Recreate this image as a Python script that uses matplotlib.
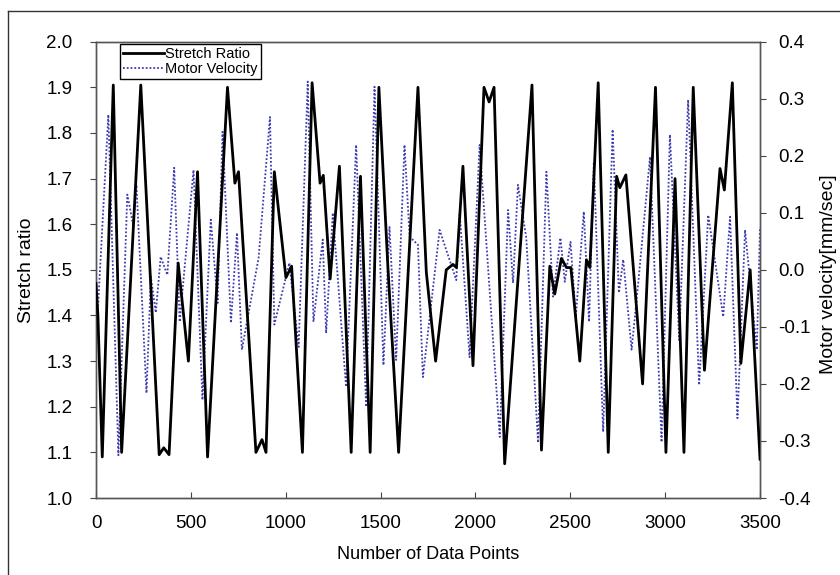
import matplotlib
matplotlib.use("Agg")
import matplotlib.pyplot as plt
from matplotlib.lines import Line2D

plt.rcParams['font.family'] = ['Liberation Sans', 'DejaVu Sans']

# === DATA ===
ratio_x = [0, 10, 33, 91, 135, 236, 333, 357, 385, 433, 487, 535, 588, 693,
           732, 751, 843, 875, 896, 940, 1001, 1031, 1088, 1139, 1181, 1198,
           1234, 1283, 1345, 1394, 1445, 1491, 1538, 1595, 1697, 1741, 1790,
           1846, 1881, 1900, 1934, 1987, 2045, 2072, 2098, 2154, 2298, 2348,
           2392, 2418, 2453, 2480, 2503, 2550, 2585, 2603, 2647, 2700, 2744,
           2761, 2793, 2881, 2949, 3004, 3052, 3099, 3148, 3207, 3289, 3312,
           3354, 3399, 3448, 3500]
ratio_y = [1.47, 1.40, 1.09, 1.905, 1.10, 1.905, 1.095, 1.11, 1.095, 1.515,
           1.30, 1.715, 1.09, 1.90, 1.69, 1.715, 1.10, 1.128, 1.10, 1.715,
           1.483, 1.508, 1.10, 1.91, 1.69, 1.707, 1.48, 1.727, 1.10, 1.705,
           1.10, 1.90, 1.51, 1.10, 1.90, 1.495, 1.30, 1.50, 1.512, 1.505,
           1.727, 1.29, 1.90, 1.868, 1.90, 1.075, 1.905, 1.105, 1.508, 1.447,
           1.525, 1.505, 1.505, 1.30, 1.522, 1.505, 1.91, 1.10, 1.705, 1.68,
           1.708, 1.25, 1.90, 1.10, 1.70, 1.10, 1.90, 1.28, 1.722, 1.675,
           1.91, 1.295, 1.50, 1.085]

vel_x = [0, 65, 118, 165, 195, 213, 266, 289, 315, 341, 376, 412, 441, 514,
         561, 605, 641, 667, 711, 743, 769, 857, 917, 940, 1019, 1068, 1116,
         1146, 1195, 1213, 1248, 1318, 1371, 1424, 1468, 1515, 1547, 1582,
         1626, 1653, 1697, 1723, 1811, 1899, 1917, 1969, 2022, 2128, 2172,
         2198, 2224, 2268, 2330, 2374, 2409, 2448, 2471, 2501, 2529, 2571,
         2599, 2624, 2673, 2723, 2756, 2779, 2823, 2858, 2920, 2981, 3025,
         3074, 3121, 3179, 3227, 3306, 3342, 3381, 3421, 3483, 3500]
vel_y = [-0.13, 0.272, -0.325, 0.132, 0.08, 0.149, -0.216, -0.012, -0.075,
         0.023, -0.009, 0.179, -0.091, 0.175, -0.228, 0.088, -0.058, 0.242,
         -0.093, 0.065, -0.14, 0.021, 0.268, -0.096, 0.012, -0.135, 0.33,
         -0.091, 0.053, -0.111, 0.10, -0.205, 0.219, -0.24, 0.321, -0.167,
         0.075, -0.158, 0.219, 0.058, 0.044, -0.188, 0.07, -0.018, 0.10,
         -0.153, 0.219, -0.293, 0.105, -0.023, 0.149, 0.056, -0.303, 0.172,
         -0.047, 0.056, -0.021, 0.049, -0.082, 0.102, -0.091, 0.189, -0.284,
         0.246, -0.04, 0.018, -0.14, -0.023, 0.198, -0.302, 0.237, -0.123,
         0.298, -0.202, 0.096, -0.082, 0.093, -0.26, 0.07, -0.14, 0.075]

x_ticks = [0, 500, 1000, 1500, 2000, 2500, 3000, 3500]
left_ticks = [1.0, 1.1, 1.2, 1.3, 1.4, 1.5, 1.6, 1.7, 1.8, 1.9, 2.0]
right_ticks = [-0.4, -0.3, -0.2, -0.1, 0.0, 0.1, 0.2, 0.3, 0.4]

# === PLOT ===
fig = plt.figure(figsize=(8.4, 5.75), dpi=100)
ax = fig.add_axes([0.1143, 0.1339, 0.7905, 0.7936])
ax2 = ax.twinx()

ln1, = ax.plot(ratio_x, ratio_y, color='black', lw=2.0, label='Stretch Ratio', zorder=3)
ln2, = ax2.plot(vel_x, vel_y, color='#3c3cb0', lw=1.3, linestyle=(0, (1, 1.1)),
                label='Motor Velocity', zorder=2)
ax.set_zorder(ax2.get_zorder() + 1)
ax.patch.set_visible(False)

ax.set_xlim(0, 3500)
ax.set_ylim(1.0, 2.0)
ax2.set_ylim(-0.4, 0.4)
ax.set_xticks(x_ticks)
ax.set_yticks(left_ticks)
ax.set_yticklabels([f"{v:.1f}" for v in left_ticks])
ax2.set_yticks(right_ticks)
ax2.set_yticklabels([f"{v:.1f}" for v in right_ticks])

ax.tick_params(axis='x', direction='in', length=4, labelsize=13.5, pad=12, color='#444444')
ax.tick_params(axis='y', direction='out', length=4, labelsize=13.5, pad=13, color='#444444')
ax2.tick_params(axis='y', direction='out', length=4, labelsize=13.5, pad=9, color='#444444')

for a in (ax, ax2):
    for s in a.spines.values():
        s.set_color('#555555')
        s.set_linewidth(1.0)

ax.set_xlabel('Number of Data Points', fontsize=13, labelpad=10)
ax.set_ylabel('Stretch ratio', fontsize=14)
ax.yaxis.set_label_coords(-0.092, 0.5)
ax2.set_ylabel('Motor velocity[mm/sec]', fontsize=14)
ax2.yaxis.set_label_coords(1.091, 0.49)

leg = ax.legend(handles=[ln1, ln2], loc='upper left', bbox_to_anchor=(0.036, 0.995),
                borderaxespad=0, fontsize=10.5, fancybox=False, framealpha=1,
                edgecolor='black', handlelength=2.8, handletextpad=0.1,
                labelspacing=0.05, borderpad=0.2)
leg.get_frame().set_linewidth(1.0)

# thin outer frame (left + top edge)
fig.add_artist(Line2D([8 / 840, 8 / 840], [0, 1 - 11 / 575], color='#333333', lw=1.0))
fig.add_artist(Line2D([8 / 840, 1], [1 - 11 / 575, 1 - 11 / 575], color='#333333', lw=1.0))

plt.savefig('out.png', dpi=100)
